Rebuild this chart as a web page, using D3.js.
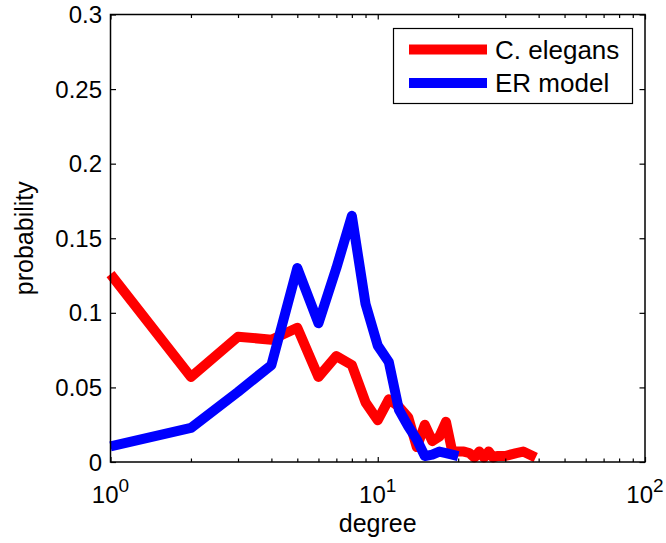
<!DOCTYPE html>
<html>
<head>
<meta charset="utf-8">
<script src="https://cdn.jsdelivr.net/npm/d3@7"></script>
<style>
  body { margin: 0; background: #fff; }
  svg { display: block; font-family: "Liberation Sans", Arial, sans-serif; }
</style>
</head>
<body>
<div id="chart"></div>
<script>
// degree distribution, log x axis

const elegansDeg  = [1,2,3,4,5,6,7,8,9,10,11,12,13,14,15,16,17,18,19,20,21,22,23,24,25,26,27,28,30,33,35,39];
const elegansProb = [0.126,0.057,0.084,0.082,0.090,0.057,0.071,0.065,0.040,0.028,0.042,0.037,0.030,0.010,0.025,0.014,0.017,0.027,0.007,0.007,0.007,0.006,0.003,0.007,0.003,0.007,0.003,0.004,0.004,0.006,0.007,0.003];

const erDeg  = [1,2,3,4,5,6,7,8,9,10,11,12,13,14,15,16,17,18,19,20];
const erProb = [0.0105,0.0228,0.047,0.065,0.130,0.093,0.130,0.165,0.106,0.078,0.067,0.035,0.024,0.015,0.004,0.005,0.007,0.006,0.005,0.004];

const yTicks = [0,0.05,0.1,0.15,0.2,0.25,0.3];
const yTickLabels = ["0","0.05","0.1","0.15","0.2","0.25","0.3"];
const xMajor = [1,10,100];
const xMajorExp = ["0","1","2"];
const xMinor = [2,3,4,5,6,7,8,9,20,30,40,50,60,70,80,90];

const legendNames = ["C. elegans","ER model"];
const legendColors = ["#ff0000","#0000ff"];

const W = 666, H = 543;
const m = { left: 110.5, top: 14.5, right: 21, bottom: 81 };
const iw = W - m.left - m.right;
const ih = H - m.top - m.bottom;

const svg = d3.select("#chart").append("svg")
  .attr("width", W)
  .attr("height", H);

const x = d3.scaleLog().domain([1,100]).range([0, iw]);
const y = d3.scaleLinear().domain([0,0.3]).range([ih, 0]);

const g = svg.append("g").attr("transform", `translate(${m.left},${m.top})`);

// lines
const line = d3.line()
  .x(d => x(d[0]))
  .y(d => y(d[1]));

const series = [
  d3.zip(elegansDeg, elegansProb),
  d3.zip(erDeg, erProb)
];

g.selectAll("path.series")
  .data(series)
  .enter()
  .append("path")
  .attr("class","series")
  .attr("d", line)
  .attr("fill","none")
  .attr("stroke", (d,i) => legendColors[i])
  .attr("stroke-width", 10)
  .attr("stroke-linejoin","round")
  .attr("stroke-linecap","butt");

// frame
g.append("rect")
  .attr("width", iw)
  .attr("height", ih)
  .attr("fill","none")
  .attr("stroke","#000")
  .attr("stroke-width",1.5);

// ticks (inward)
function styleAxis(sel){
  sel.select(".domain").remove();
  sel.selectAll("line").attr("stroke","#000").attr("stroke-width",1.2);
  sel.selectAll("text").remove();
}
g.append("g").call(d3.axisLeft(y).tickValues(yTicks).tickSize(-5.5)).call(styleAxis);
g.append("g").attr("transform",`translate(${iw},0)`)
  .call(d3.axisRight(y).tickValues(yTicks).tickSize(-5.5)).call(styleAxis);
g.append("g").attr("transform",`translate(0,${ih})`)
  .call(d3.axisBottom(x).tickValues(xMajor).tickSize(-5)).call(styleAxis);
g.append("g").attr("transform",`translate(0,${ih})`)
  .call(d3.axisBottom(x).tickValues(xMinor).tickSize(-3.5)).call(styleAxis);
g.append("g")
  .call(d3.axisTop(x).tickValues(xMajor).tickSize(-5)).call(styleAxis);
g.append("g")
  .call(d3.axisTop(x).tickValues(xMinor).tickSize(-3.5)).call(styleAxis);

// y tick labels
g.selectAll("text.ylab")
  .data(yTicks)
  .enter()
  .append("text")
  .attr("class","ylab")
  .attr("x", -8.5)
  .attr("y", d => y(d) + 8.5)
  .attr("text-anchor","end")
  .attr("font-size", 24)
  .text((d,i) => yTickLabels[i]);

// x tick labels 10^n
const xl = g.selectAll("text.xlab")
  .data(xMajor)
  .enter()
  .append("text")
  .attr("class","xlab")
  .attr("x", d => x(d))
  .attr("y", ih + 41)
  .attr("text-anchor","middle")
  .attr("font-size", 24);
xl.append("tspan").text("10");
xl.append("tspan")
  .attr("font-size", 19)
  .attr("dy", -11.5)
  .text((d,i) => xMajorExp[i]);

// axis labels
g.append("text")
  .attr("x", iw/2)
  .attr("y", ih + 69.5)
  .attr("text-anchor","middle")
  .attr("font-size", 25)
  .text("degree");

g.append("text")
  .attr("transform", `translate(${33 - m.left},${ih/2}) rotate(-90)`)
  .attr("text-anchor","middle")
  .attr("font-size", 25)
  .text("probability");

// legend
const lg = svg.append("g").attr("transform","translate(393.5,28.5)");
lg.append("rect")
  .attr("width", 239)
  .attr("height", 75)
  .attr("fill","#fff")
  .attr("stroke","#000")
  .attr("stroke-width",1.2);

const items = lg.selectAll("g.item")
  .data(legendNames)
  .enter()
  .append("g")
  .attr("class","item")
  .attr("transform",(d,i) => `translate(0,${21 + i*33.5})`);
items.append("line")
  .attr("x1", 15.5).attr("x2", 93.5)
  .attr("stroke",(d,i) => legendColors[i])
  .attr("stroke-width",10);
items.append("text")
  .attr("x", 101.5)
  .attr("y", 9)
  .attr("font-size", 26)
  .text(d => d);
</script>
</body>
</html>
